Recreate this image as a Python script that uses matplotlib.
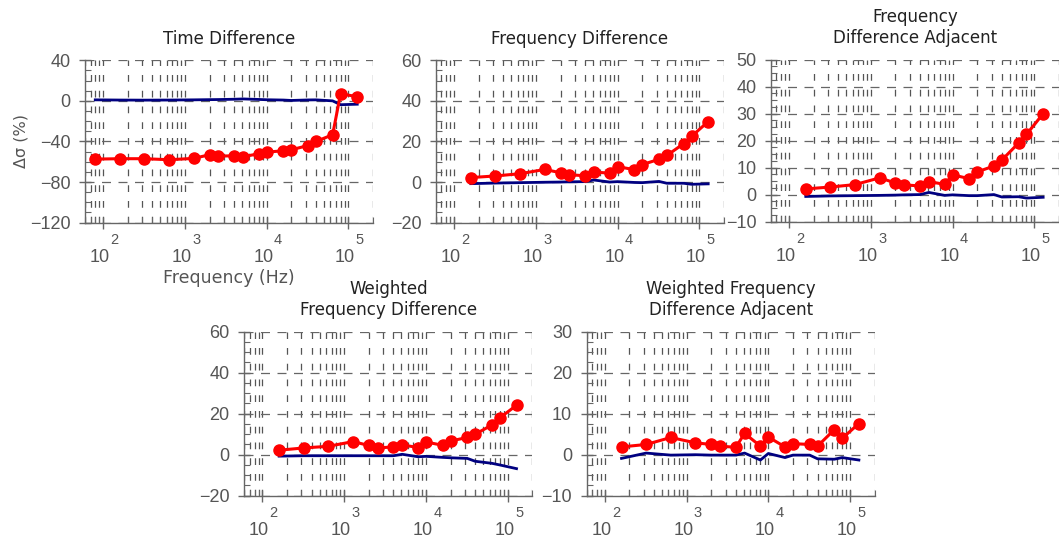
import matplotlib
matplotlib.use("Agg")
import matplotlib.pyplot as plt
from matplotlib.ticker import AutoMinorLocator, MultipleLocator, LogLocator, NullFormatter

plt.rcParams['font.family'] = ['DejaVu Sans']

# frequencies (Hz)
freq_td = [80, 160, 320, 640, 1280, 2000, 2560, 4000, 5120, 8000, 10000,
           16000, 20000, 32000, 40000, 64000, 80000, 128000]
freq_fd = freq_td[1:]

# Time Difference
td_red = [-57.4, -57.0, -57.0, -58.0, -56.7, -53.1, -54.5, -54.1, -55.1, -52.1,
          -50.5, -49.2, -48.2, -44.0, -40.0, -33.4, 6.9, 4.2]
td_blue = [1.0, 0.8, 0.7, 0.8, 1.0, 1.2, 1.3, 1.6, 1.9, 1.4, 1.1, 0.8, 0.4,
           0.9, 1.0, 0.0, -3.8, -3.3]

# Frequency Difference
fd_red = [2.2, 3.0, 4.1, 6.2, 4.6, 3.6, 3.1, 4.9, 4.4, 7.6, 6.1, 8.6, 11.2,
          13.1, 18.9, 22.5, 29.8]
fd_blue = [-0.8, -0.5, -0.3, -0.1, 0.0, 0.1, 0.2, 1.0, 0.0, 0.2, -0.2, -0.3,
           0.3, -0.6, -0.6, -1.1, -0.9]

# Frequency Difference Adjacent
fda_red = [2.1, 2.8, 3.7, 6.2, 4.3, 3.6, 3.2, 4.8, 3.8, 7.3, 5.9, 8.4, 10.6,
           12.8, 19.1, 22.3, 30.0]
fda_blue = [-0.7, -0.5, -0.4, -0.3, -0.2, -0.1, 0.0, 0.8, -0.3, -0.1, -0.4,
            -0.4, 0.0, -0.9, -0.8, -1.3, -1.0]

# Weighted Frequency Difference
wfd_red = [2.2, 3.3, 4.1, 6.4, 4.5, 3.3, 3.8, 4.8, 3.5, 6.2, 4.6, 6.7, 8.4,
           10.0, 14.5, 18.0, 24.1]
wfd_blue = [-0.7, -0.5, -0.5, -0.5, -0.5, -0.5, -0.5, 0.2, -1.0, -0.8, -1.3,
            -1.5, -1.8, -3.2, -4.2, -5.0, -6.8]

# Weighted Frequency Difference Adjacent
wfda_red = [1.9, 2.5, 4.2, 2.9, 2.5, 2.1, 1.8, 5.2, 2.1, 4.3, 1.9, 2.7, 2.5,
            2.1, 6.1, 4.0, 7.6]
wfda_blue = [-0.9, 0.4, -0.1, 0.0, -0.1, -0.1, -0.1, 0.4, -1.3, 0.3, -0.7,
             -0.1, -0.1, -1.0, -1.1, -0.7, -1.3]

# x tick decades
decades = [2, 3, 4, 5]

panels = [
    ("Time Difference", freq_td, td_red, td_blue, (-120, 40), 40,
     [0.0803, 0.590, 0.272, 0.299]),
    ("Frequency Difference", freq_fd, fd_red, fd_blue, (-20, 60), 20,
     [0.4117, 0.590, 0.272, 0.299]),
    ("Frequency\nDifference Adjacent", freq_fd, fda_red, fda_blue, (-10, 50), 10,
     [0.728, 0.592, 0.272, 0.298]),
    ("Weighted\nFrequency Difference", freq_fd, wfd_red, wfd_blue, (-20, 60), 20,
     [0.2307, 0.0871, 0.272, 0.302]),
    ("Weighted Frequency\nDifference Adjacent", freq_fd, wfda_red, wfda_blue, (-10, 30), 10,
     [0.554, 0.0871, 0.272, 0.302]),
]

tick_font = 'Liberation Sans'
fig = plt.figure(figsize=(10.59, 5.43), dpi=100)

for i, (title, f, red, blue, ylim, step, pos) in enumerate(panels):
    ax = fig.add_axes(pos)
    ax.set_axisbelow(True)
    ax.plot(f, blue, color='#000080', lw=2.0, zorder=3)
    ax.plot(f, red, color='#ff0000', lw=2.2, marker='o', markersize=8, zorder=4)
    ax.set_xscale('log')
    ax.set_xlim(60, 2e5)
    ax.set_ylim(*ylim)
    ax.yaxis.set_major_locator(MultipleLocator(step))
    ax.yaxis.set_minor_locator(AutoMinorLocator(4))
    ax.xaxis.set_major_locator(LogLocator(base=10))
    ax.xaxis.set_minor_locator(LogLocator(base=10, subs=range(2, 10)))
    ax.xaxis.set_minor_formatter(NullFormatter())

    ax.grid(True, which='both', axis='x', color='#555', lw=0.9,
            linestyle=(0, (5.4, 7.2)))
    ax.grid(True, which='major', axis='y', color='#666', lw=0.9,
            linestyle=(0, (7.2, 6)))

    for s in ['top', 'right']:
        ax.spines[s].set_visible(False)
    for s in ['left', 'bottom']:
        ax.spines[s].set_color('#666')
        ax.spines[s].set_linewidth(1.0)

    ax.tick_params(which='major', direction='inout', length=9, width=1,
                   color='#666', labelcolor='#555', labelsize=13)
    ax.tick_params(axis='x', which='major', labelbottom=False)
    ax.tick_params(axis='y', which='major', pad=6)
    ax.tick_params(which='minor', direction='in', length=4, width=0.8,
                   color='#666')
    for lab in ax.get_yticklabels():
        lab.set_fontfamily(tick_font)

    # decade labels: "10" with the exponent raised above it
    for d in decades:
        ax.annotate("10", xy=(10 ** d, 0), xycoords=('data', 'axes fraction'),
                    xytext=(4.8, -28.3), textcoords='offset points',
                    ha='right', va='baseline', fontsize=13, color='#555',
                    family=tick_font)
        ax.annotate(str(d), xy=(10 ** d, 0), xycoords=('data', 'axes fraction'),
                    xytext=(5.2, -15.6), textcoords='offset points',
                    ha='left', va='baseline', fontsize=10.5, color='#555',
                    family=tick_font)

    ax.set_title(title, fontsize=12, color='#222', pad=12)
    if i == 0:
        ax.set_xlabel("Frequency (Hz)", fontsize=12.5, color='#555', labelpad=29)
        ax.set_ylabel("Δσ (%)", fontsize=11.5, color='#555', labelpad=1)

fig.savefig("out.png", dpi=100)
